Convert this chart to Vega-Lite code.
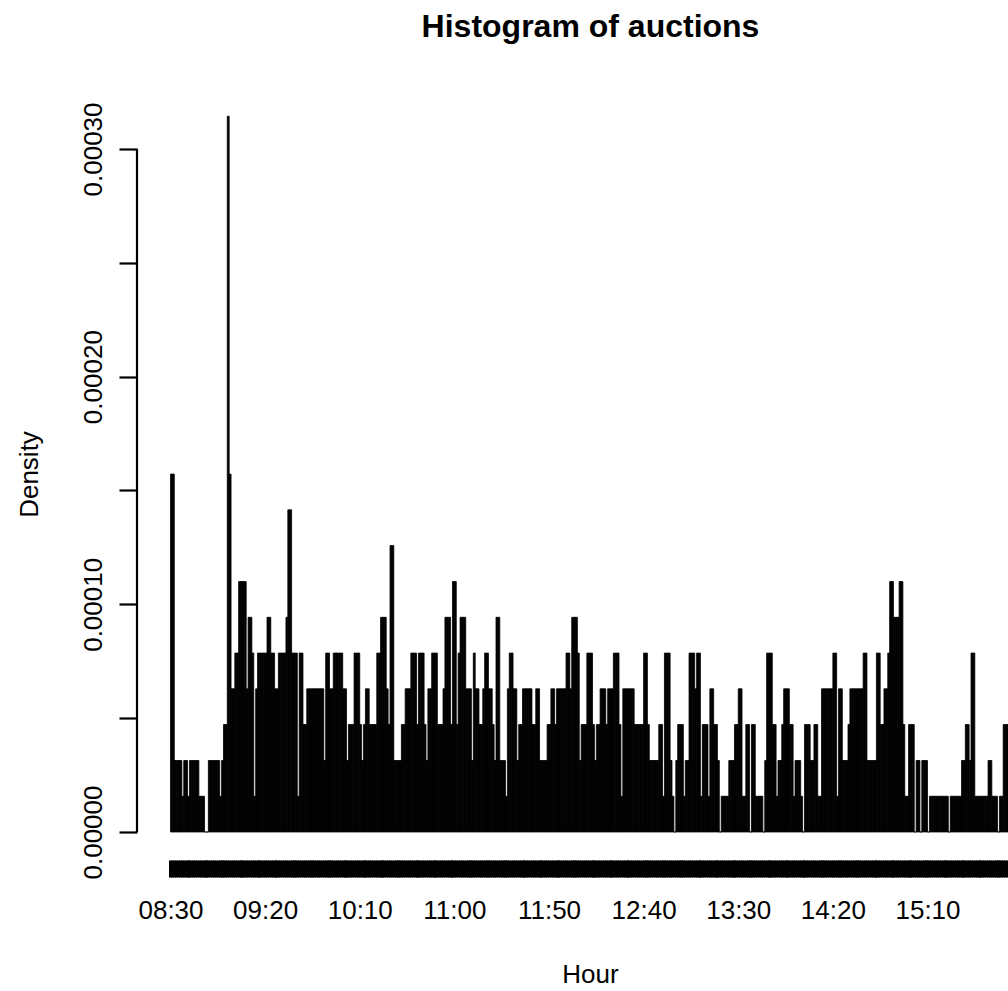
{
"$schema": "https://vega.github.io/schema/vega-lite/v6.json",
"width": 871,
"height": 772,
"autosize": "none",
"padding": {"left": 137, "top": 88, "right": 0, "bottom": 131},
"background": "white",
"config": {"view": {"stroke": null}, "font": "Liberation Sans"},
"title": {"text": "Histogram of auctions", "fontSize": 32, "fontWeight": "bold", "font": "Liberation Sans", "color": "black", "anchor": "middle", "dx": 18, "baseline": "alphabetic", "offset": 19},
"layer": [
{
"data": {"values": [
{"start":510,"end":511,"density":0.0001572},{"start":511,"end":512,"density":0.0001572},{"start":512,"end":513,"density":0.0000314},{"start":513,"end":514,"density":0.0000314},{"start":514,"end":515,"density":0.0000314},{"start":515,"end":516,"density":0.0000314},{"start":516,"end":517,"density":0.0000157},{"start":517,"end":518,"density":0.0000314},{"start":518,"end":519,"density":0.0000314},{"start":519,"end":520,"density":0.0000157},
{"start":520,"end":521,"density":0.0000314},{"start":521,"end":522,"density":0.0000314},{"start":522,"end":523,"density":0.0000314},{"start":523,"end":524,"density":0.0000314},{"start":524,"end":525,"density":0.0000314},{"start":525,"end":526,"density":0.0000157},{"start":526,"end":527,"density":0.0000157},{"start":527,"end":528,"density":0.0000157},{"start":528,"end":529,"density":0},{"start":529,"end":530,"density":0},
{"start":530,"end":531,"density":0.0000314},{"start":531,"end":532,"density":0.0000314},{"start":532,"end":533,"density":0.0000314},{"start":533,"end":534,"density":0.0000314},{"start":534,"end":535,"density":0.0000314},{"start":535,"end":536,"density":0.0000314},{"start":536,"end":537,"density":0.0000157},{"start":537,"end":538,"density":0.0000314},{"start":538,"end":539,"density":0.0000472},{"start":539,"end":540,"density":0.0000472},
{"start":540,"end":541,"density":0.0003144},{"start":541,"end":542,"density":0.0001572},{"start":542,"end":543,"density":0.0000629},{"start":543,"end":544,"density":0.0000629},{"start":544,"end":545,"density":0.0000786},{"start":545,"end":546,"density":0.0000786},{"start":546,"end":547,"density":0.00011},{"start":547,"end":548,"density":0.00011},{"start":548,"end":549,"density":0.00011},{"start":549,"end":550,"density":0.00011},
{"start":550,"end":551,"density":0.0000629},{"start":551,"end":552,"density":0.0000943},{"start":552,"end":553,"density":0.0000943},{"start":553,"end":554,"density":0.0000786},{"start":554,"end":555,"density":0.0000157},{"start":555,"end":556,"density":0.0000629},{"start":556,"end":557,"density":0.0000786},{"start":557,"end":558,"density":0.0000786},{"start":558,"end":559,"density":0.0000786},{"start":559,"end":560,"density":0.0000786},
{"start":560,"end":561,"density":0.0000786},{"start":561,"end":562,"density":0.0000943},{"start":562,"end":563,"density":0.0000943},{"start":563,"end":564,"density":0.0000786},{"start":564,"end":565,"density":0.0000786},{"start":565,"end":566,"density":0.0000629},{"start":566,"end":567,"density":0.0000629},{"start":567,"end":568,"density":0.0000786},{"start":568,"end":569,"density":0.0000786},{"start":569,"end":570,"density":0.0000786},
{"start":570,"end":571,"density":0.0000786},{"start":571,"end":572,"density":0.0000943},{"start":572,"end":573,"density":0.0001415},{"start":573,"end":574,"density":0.0001415},{"start":574,"end":575,"density":0.0000786},{"start":575,"end":576,"density":0.0000786},{"start":576,"end":577,"density":0.0000786},{"start":577,"end":578,"density":0.0000157},{"start":578,"end":579,"density":0.0000786},{"start":579,"end":580,"density":0.0000786},
{"start":580,"end":581,"density":0.0000472},{"start":581,"end":582,"density":0.0000472},{"start":582,"end":583,"density":0.0000629},{"start":583,"end":584,"density":0.0000629},{"start":584,"end":585,"density":0.0000629},{"start":585,"end":586,"density":0.0000629},{"start":586,"end":587,"density":0.0000629},{"start":587,"end":588,"density":0.0000629},{"start":588,"end":589,"density":0.0000629},{"start":589,"end":590,"density":0.0000629},
{"start":590,"end":591,"density":0.0000629},{"start":591,"end":592,"density":0.0000314},{"start":592,"end":593,"density":0.0000786},{"start":593,"end":594,"density":0.0000786},{"start":594,"end":595,"density":0.0000629},{"start":595,"end":596,"density":0.0000629},{"start":596,"end":597,"density":0.0000786},{"start":597,"end":598,"density":0.0000786},{"start":598,"end":599,"density":0.0000786},{"start":599,"end":600,"density":0.0000786},
{"start":600,"end":601,"density":0.0000786},{"start":601,"end":602,"density":0.0000629},{"start":602,"end":603,"density":0.0000629},{"start":603,"end":604,"density":0.0000314},{"start":604,"end":605,"density":0.0000472},{"start":605,"end":606,"density":0.0000472},{"start":606,"end":607,"density":0.0000472},{"start":607,"end":608,"density":0.0000786},{"start":608,"end":609,"density":0.0000786},{"start":609,"end":610,"density":0.0000786},
{"start":610,"end":611,"density":0.0000472},{"start":611,"end":612,"density":0.0000314},{"start":612,"end":613,"density":0.0000472},{"start":613,"end":614,"density":0.0000629},{"start":614,"end":615,"density":0.0000629},{"start":615,"end":616,"density":0.0000472},{"start":616,"end":617,"density":0.0000472},{"start":617,"end":618,"density":0.0000472},{"start":618,"end":619,"density":0.0000472},{"start":619,"end":620,"density":0.0000786},
{"start":620,"end":621,"density":0.0000786},{"start":621,"end":622,"density":0.0000943},{"start":622,"end":623,"density":0.0000943},{"start":623,"end":624,"density":0.0000943},{"start":624,"end":625,"density":0.0000629},{"start":625,"end":626,"density":0.0000472},{"start":626,"end":627,"density":0.0001258},{"start":627,"end":628,"density":0.0001258},{"start":628,"end":629,"density":0.0000314},{"start":629,"end":630,"density":0.0000314},
{"start":630,"end":631,"density":0.0000314},{"start":631,"end":632,"density":0.0000314},{"start":632,"end":633,"density":0.0000472},{"start":633,"end":634,"density":0.0000472},{"start":634,"end":635,"density":0.0000629},{"start":635,"end":636,"density":0.0000629},{"start":636,"end":637,"density":0.0000629},{"start":637,"end":638,"density":0.0000786},{"start":638,"end":639,"density":0.0000786},{"start":639,"end":640,"density":0.0000786},
{"start":640,"end":641,"density":0.0000472},{"start":641,"end":642,"density":0.0000786},{"start":642,"end":643,"density":0.0000786},{"start":643,"end":644,"density":0.0000786},{"start":644,"end":645,"density":0.0000472},{"start":645,"end":646,"density":0.0000314},{"start":646,"end":647,"density":0.0000629},{"start":647,"end":648,"density":0.0000629},{"start":648,"end":649,"density":0.0000786},{"start":649,"end":650,"density":0.0000786},
{"start":650,"end":651,"density":0.0000786},{"start":651,"end":652,"density":0.0000472},{"start":652,"end":653,"density":0.0000472},{"start":653,"end":654,"density":0.0000472},{"start":654,"end":655,"density":0.0000629},{"start":655,"end":656,"density":0.0000943},{"start":656,"end":657,"density":0.0000943},{"start":657,"end":658,"density":0.0000943},{"start":658,"end":659,"density":0.0000472},{"start":659,"end":660,"density":0.00011},
{"start":660,"end":661,"density":0.00011},{"start":661,"end":662,"density":0.0000472},{"start":662,"end":663,"density":0.0000786},{"start":663,"end":664,"density":0.0000943},{"start":664,"end":665,"density":0.0000943},{"start":665,"end":666,"density":0.0000943},{"start":666,"end":667,"density":0.0000629},{"start":667,"end":668,"density":0.0000629},{"start":668,"end":669,"density":0.0000629},{"start":669,"end":670,"density":0.0000314},
{"start":670,"end":671,"density":0.0000786},{"start":671,"end":672,"density":0.0000629},{"start":672,"end":673,"density":0.0000629},{"start":673,"end":674,"density":0.0000472},{"start":674,"end":675,"density":0.0000472},{"start":675,"end":676,"density":0.0000629},{"start":676,"end":677,"density":0.0000786},{"start":677,"end":678,"density":0.0000786},{"start":678,"end":679,"density":0.0000629},{"start":679,"end":680,"density":0.0000629},
{"start":680,"end":681,"density":0.0000472},{"start":681,"end":682,"density":0.0000314},{"start":682,"end":683,"density":0.0000943},{"start":683,"end":684,"density":0.0000943},{"start":684,"end":685,"density":0.0000314},{"start":685,"end":686,"density":0.0000314},{"start":686,"end":687,"density":0.0000314},{"start":687,"end":688,"density":0.0000157},{"start":688,"end":689,"density":0.0000629},{"start":689,"end":690,"density":0.0000786},
{"start":690,"end":691,"density":0.0000786},{"start":691,"end":692,"density":0.0000629},{"start":692,"end":693,"density":0.0000629},{"start":693,"end":694,"density":0.0000314},{"start":694,"end":695,"density":0.0000472},{"start":695,"end":696,"density":0.0000472},{"start":696,"end":697,"density":0.0000629},{"start":697,"end":698,"density":0.0000629},{"start":698,"end":699,"density":0.0000629},{"start":699,"end":700,"density":0.0000629},
{"start":700,"end":701,"density":0.0000629},{"start":701,"end":702,"density":0.0000472},{"start":702,"end":703,"density":0.0000472},{"start":703,"end":704,"density":0.0000629},{"start":704,"end":705,"density":0.0000629},{"start":705,"end":706,"density":0.0000314},{"start":706,"end":707,"density":0.0000314},{"start":707,"end":708,"density":0.0000314},{"start":708,"end":709,"density":0.0000314},{"start":709,"end":710,"density":0.0000472},
{"start":710,"end":711,"density":0.0000472},{"start":711,"end":712,"density":0.0000629},{"start":712,"end":713,"density":0.0000629},{"start":713,"end":714,"density":0.0000472},{"start":714,"end":715,"density":0.0000629},{"start":715,"end":716,"density":0.0000629},{"start":716,"end":717,"density":0.0000629},{"start":717,"end":718,"density":0.0000629},{"start":718,"end":719,"density":0.0000629},{"start":719,"end":720,"density":0.0000786},
{"start":720,"end":721,"density":0.0000786},{"start":721,"end":722,"density":0.0000629},{"start":722,"end":723,"density":0.0000943},{"start":723,"end":724,"density":0.0000943},{"start":724,"end":725,"density":0.0000943},{"start":725,"end":726,"density":0.0000786},{"start":726,"end":727,"density":0.0000314},{"start":727,"end":728,"density":0.0000472},{"start":728,"end":729,"density":0.0000472},{"start":729,"end":730,"density":0.0000472},
{"start":730,"end":731,"density":0.0000786},{"start":731,"end":732,"density":0.0000786},{"start":732,"end":733,"density":0.0000786},{"start":733,"end":734,"density":0.0000472},{"start":734,"end":735,"density":0.0000314},{"start":735,"end":736,"density":0.0000472},{"start":736,"end":737,"density":0.0000472},{"start":737,"end":738,"density":0.0000629},{"start":738,"end":739,"density":0.0000629},{"start":739,"end":740,"density":0.0000629},
{"start":740,"end":741,"density":0.0000472},{"start":741,"end":742,"density":0.0000629},{"start":742,"end":743,"density":0.0000629},{"start":743,"end":744,"density":0.0000629},{"start":744,"end":745,"density":0.0000786},{"start":745,"end":746,"density":0.0000786},{"start":746,"end":747,"density":0.0000786},{"start":747,"end":748,"density":0.0000472},{"start":748,"end":749,"density":0.0000157},{"start":749,"end":750,"density":0.0000629},
{"start":750,"end":751,"density":0.0000629},{"start":751,"end":752,"density":0.0000629},{"start":752,"end":753,"density":0.0000629},{"start":753,"end":754,"density":0.0000629},{"start":754,"end":755,"density":0.0000629},{"start":755,"end":756,"density":0.0000472},{"start":756,"end":757,"density":0.0000472},{"start":757,"end":758,"density":0.0000472},{"start":758,"end":759,"density":0.0000472},{"start":759,"end":760,"density":0.0000472},
{"start":760,"end":761,"density":0.0000786},{"start":761,"end":762,"density":0.0000786},{"start":762,"end":763,"density":0.0000472},{"start":763,"end":764,"density":0.0000314},{"start":764,"end":765,"density":0.0000314},{"start":765,"end":766,"density":0.0000314},{"start":766,"end":767,"density":0.0000314},{"start":767,"end":768,"density":0.0000314},{"start":768,"end":769,"density":0.0000472},{"start":769,"end":770,"density":0.0000472},
{"start":770,"end":771,"density":0.0000157},{"start":771,"end":772,"density":0.0000786},{"start":772,"end":773,"density":0.0000786},{"start":773,"end":774,"density":0.0000786},{"start":774,"end":775,"density":0.0000314},{"start":775,"end":776,"density":0.0000157},{"start":776,"end":777,"density":0},{"start":777,"end":778,"density":0.0000314},{"start":778,"end":779,"density":0.0000472},{"start":779,"end":780,"density":0.0000472},
{"start":780,"end":781,"density":0.0000472},{"start":781,"end":782,"density":0.0000157},{"start":782,"end":783,"density":0.0000314},{"start":783,"end":784,"density":0.0000314},{"start":784,"end":785,"density":0.0000786},{"start":785,"end":786,"density":0.0000786},{"start":786,"end":787,"density":0.0000786},{"start":787,"end":788,"density":0.0000629},{"start":788,"end":789,"density":0.0000786},{"start":789,"end":790,"density":0.0000786},
{"start":790,"end":791,"density":0.0000157},{"start":791,"end":792,"density":0.0000472},{"start":792,"end":793,"density":0.0000472},{"start":793,"end":794,"density":0.0000472},{"start":794,"end":795,"density":0.0000157},{"start":795,"end":796,"density":0.0000629},{"start":796,"end":797,"density":0.0000629},{"start":797,"end":798,"density":0.0000472},{"start":798,"end":799,"density":0.0000472},{"start":799,"end":800,"density":0.0000314},
{"start":800,"end":801,"density":0},{"start":801,"end":802,"density":0.0000157},{"start":802,"end":803,"density":0.0000157},{"start":803,"end":804,"density":0.0000157},{"start":804,"end":805,"density":0.0000157},{"start":805,"end":806,"density":0.0000314},{"start":806,"end":807,"density":0.0000314},{"start":807,"end":808,"density":0.0000314},{"start":808,"end":809,"density":0.0000472},{"start":809,"end":810,"density":0.0000472},
{"start":810,"end":811,"density":0.0000629},{"start":811,"end":812,"density":0.0000629},{"start":812,"end":813,"density":0.0000157},{"start":813,"end":814,"density":0.0000157},{"start":814,"end":815,"density":0.0000472},{"start":815,"end":816,"density":0.0000472},{"start":816,"end":817,"density":0},{"start":817,"end":818,"density":0.0000472},{"start":818,"end":819,"density":0.0000472},{"start":819,"end":820,"density":0.0000157},
{"start":820,"end":821,"density":0.0000157},{"start":821,"end":822,"density":0.0000157},{"start":822,"end":823,"density":0.0000157},{"start":823,"end":824,"density":0},{"start":824,"end":825,"density":0.0000314},{"start":825,"end":826,"density":0.0000786},{"start":826,"end":827,"density":0.0000786},{"start":827,"end":828,"density":0.0000786},{"start":828,"end":829,"density":0.0000472},{"start":829,"end":830,"density":0.0000472},
{"start":830,"end":831,"density":0.0000157},{"start":831,"end":832,"density":0.0000314},{"start":832,"end":833,"density":0.0000314},{"start":833,"end":834,"density":0.0000472},{"start":834,"end":835,"density":0.0000629},{"start":835,"end":836,"density":0.0000629},{"start":836,"end":837,"density":0.0000629},{"start":837,"end":838,"density":0.0000472},{"start":838,"end":839,"density":0.0000472},{"start":839,"end":840,"density":0.0000157},
{"start":840,"end":841,"density":0.0000314},{"start":841,"end":842,"density":0.0000314},{"start":842,"end":843,"density":0.0000314},{"start":843,"end":844,"density":0.0000157},{"start":844,"end":845,"density":0},{"start":845,"end":846,"density":0.0000472},{"start":846,"end":847,"density":0.0000472},{"start":847,"end":848,"density":0.0000472},{"start":848,"end":849,"density":0.0000314},{"start":849,"end":850,"density":0.0000314},
{"start":850,"end":851,"density":0.0000472},{"start":851,"end":852,"density":0.0000472},{"start":852,"end":853,"density":0.0000157},{"start":853,"end":854,"density":0.0000157},{"start":854,"end":855,"density":0.0000629},{"start":855,"end":856,"density":0.0000629},{"start":856,"end":857,"density":0.0000629},{"start":857,"end":858,"density":0.0000629},{"start":858,"end":859,"density":0.0000629},{"start":859,"end":860,"density":0.0000629},
{"start":860,"end":861,"density":0.0000786},{"start":861,"end":862,"density":0.0000786},{"start":862,"end":863,"density":0.0000157},{"start":863,"end":864,"density":0.0000629},{"start":864,"end":865,"density":0.0000629},{"start":865,"end":866,"density":0.0000314},{"start":866,"end":867,"density":0.0000314},{"start":867,"end":868,"density":0.0000314},{"start":868,"end":869,"density":0.0000472},{"start":869,"end":870,"density":0.0000629},
{"start":870,"end":871,"density":0.0000629},{"start":871,"end":872,"density":0.0000629},{"start":872,"end":873,"density":0.0000629},{"start":873,"end":874,"density":0.0000629},{"start":874,"end":875,"density":0.0000629},{"start":875,"end":876,"density":0.0000629},{"start":876,"end":877,"density":0.0000786},{"start":877,"end":878,"density":0.0000786},{"start":878,"end":879,"density":0.0000314},{"start":879,"end":880,"density":0.0000314},
{"start":880,"end":881,"density":0.0000314},{"start":881,"end":882,"density":0.0000314},{"start":882,"end":883,"density":0.0000314},{"start":883,"end":884,"density":0.0000786},{"start":884,"end":885,"density":0.0000786},{"start":885,"end":886,"density":0.0000472},{"start":886,"end":887,"density":0.0000472},{"start":887,"end":888,"density":0.0000629},{"start":888,"end":889,"density":0.0000629},{"start":889,"end":890,"density":0.0000786},
{"start":890,"end":891,"density":0.00011},{"start":891,"end":892,"density":0.00011},{"start":892,"end":893,"density":0.0000943},{"start":893,"end":894,"density":0.0000943},{"start":894,"end":895,"density":0.0000943},{"start":895,"end":896,"density":0.00011},{"start":896,"end":897,"density":0.00011},{"start":897,"end":898,"density":0.0000472},{"start":898,"end":899,"density":0.0000157},{"start":899,"end":900,"density":0.0000157},
{"start":900,"end":901,"density":0.0000472},{"start":901,"end":902,"density":0.0000472},{"start":902,"end":903,"density":0.0000472},{"start":903,"end":904,"density":0},{"start":904,"end":905,"density":0.0000314},{"start":905,"end":906,"density":0.0000314},{"start":906,"end":907,"density":0},{"start":907,"end":908,"density":0.0000314},{"start":908,"end":909,"density":0.0000314},{"start":909,"end":910,"density":0.0000314},
{"start":910,"end":911,"density":0},{"start":911,"end":912,"density":0.0000157},{"start":912,"end":913,"density":0.0000157},{"start":913,"end":914,"density":0.0000157},{"start":914,"end":915,"density":0.0000157},{"start":915,"end":916,"density":0.0000157},{"start":916,"end":917,"density":0.0000157},{"start":917,"end":918,"density":0.0000157},{"start":918,"end":919,"density":0.0000157},{"start":919,"end":920,"density":0.0000157},
{"start":920,"end":921,"density":0.0000157},{"start":921,"end":922,"density":0},{"start":922,"end":923,"density":0.0000157},{"start":923,"end":924,"density":0.0000157},{"start":924,"end":925,"density":0.0000157},{"start":925,"end":926,"density":0.0000157},{"start":926,"end":927,"density":0.0000157},{"start":927,"end":928,"density":0.0000157},{"start":928,"end":929,"density":0.0000314},{"start":929,"end":930,"density":0.0000314},
{"start":930,"end":931,"density":0.0000472},{"start":931,"end":932,"density":0.0000472},{"start":932,"end":933,"density":0.0000314},{"start":933,"end":934,"density":0.0000786},{"start":934,"end":935,"density":0.0000786},{"start":935,"end":936,"density":0.0000157},{"start":936,"end":937,"density":0.0000157},{"start":937,"end":938,"density":0.0000157},{"start":938,"end":939,"density":0.0000157},{"start":939,"end":940,"density":0.0000157},
{"start":940,"end":941,"density":0.0000157},{"start":941,"end":942,"density":0.0000157},{"start":942,"end":943,"density":0.0000314},{"start":943,"end":944,"density":0.0000314},{"start":944,"end":945,"density":0.0000157},{"start":945,"end":946,"density":0.0000157},{"start":946,"end":947,"density":0.0000157},{"start":947,"end":948,"density":0},{"start":948,"end":949,"density":0.0000157},{"start":949,"end":950,"density":0.0000157},
{"start":950,"end":951,"density":0.0000472},{"start":951,"end":952,"density":0.0000472},{"start":952,"end":953,"density":0.0000472}
]},
"mark": {"type": "bar", "fill": "black", "stroke": "black", "strokeWidth": 0.8, "clip": true},
"encoding": {
"x": {"field": "start", "type": "quantitative",
 "scale": {"domain": [492.3, 952.54], "nice": false, "zero": false},
 "axis": {
  "values": [510,511,512,513,514,515,516,517,518,519,520,521,522,523,524,525,526,527,528,529,530,531,532,533,534,535,536,537,538,539,540,541,542,543,544,545,546,547,548,549,550,551,552,553,554,555,556,557,558,559,560,561,562,563,564,565,566,567,568,569,570,571,572,573,574,575,576,577,578,579,580,581,582,583,584,585,586,587,588,589,590,591,592,593,594,595,596,597,598,599,600,601,602,603,604,605,606,607,608,609,610,611,612,613,614,615,616,617,618,619,620,621,622,623,624,625,626,627,628,629,630,631,632,633,634,635,636,637,638,639,640,641,642,643,644,645,646,647,648,649,650,651,652,653,654,655,656,657,658,659,660,661,662,663,664,665,666,667,668,669,670,671,672,673,674,675,676,677,678,679,680,681,682,683,684,685,686,687,688,689,690,691,692,693,694,695,696,697,698,699,700,701,702,703,704,705,706,707,708,709,710,711,712,713,714,715,716,717,718,719,720,721,722,723,724,725,726,727,728,729,730,731,732,733,734,735,736,737,738,739,740,741,742,743,744,745,746,747,748,749,750,751,752,753,754,755,756,757,758,759,760,761,762,763,764,765,766,767,768,769,770,771,772,773,774,775,776,777,778,779,780,781,782,783,784,785,786,787,788,789,790,791,792,793,794,795,796,797,798,799,800,801,802,803,804,805,806,807,808,809,810,811,812,813,814,815,816,817,818,819,820,821,822,823,824,825,826,827,828,829,830,831,832,833,834,835,836,837,838,839,840,841,842,843,844,845,846,847,848,849,850,851,852,853,854,855,856,857,858,859,860,861,862,863,864,865,866,867,868,869,870,871,872,873,874,875,876,877,878,879,880,881,882,883,884,885,886,887,888,889,890,891,892,893,894,895,896,897,898,899,900,901,902,903,904,905,906,907,908,909,910,911,912,913,914,915,916,917,918,919,920,921,922,923,924,925,926,927,928,929,930,931,932,933,934,935,936,937,938,939,940,941,942,943,944,945,946,947,948,949,950,951,952],
  "tickCount": 2000,
  "labelExpr": "(datum.value - 510) % 50 == 0 ? (floor(datum.value / 60) < 10 ? '0' : '') + floor(datum.value / 60) + ':' + (datum.value % 60 < 10 ? '0' : '') + (datum.value % 60) : ''",
  "domain": false, "grid": false,
  "tickSize": 17, "tickWidth": 3, "tickColor": "black",
  "labelOverlap": false, "labelFlush": false, "labelBound": false,
  "labelFontSize": 26, "labelColor": "black", "labelPadding": 41, "labelBaseline": "alphabetic",
  "title": "Hour", "titleFontSize": 26, "titleFontWeight": "normal", "titleColor": "black",
  "titleX": 453, "titleY": 122, "titleBaseline": "alphabetic", "titleAlign": "center", "titleAnchor": null
 }},
"x2": {"field": "end"},
"y": {"field": "density", "type": "quantitative",
 "scale": {"domain": [-0.0000123, 0.00032679], "nice": false, "zero": false},
 "axis": {
  "values": [0, 0.00005, 0.0001, 0.00015, 0.0002, 0.00025, 0.0003],
  "tickCount": 100,
  "labelExpr": "slice(format(datum.value, '.5f'), -1) == '0' ? format(datum.value, '.5f') : ''",
  "domain": false, "grid": false,
  "tickSize": 18, "tickWidth": 2.2, "tickColor": "black",
  "labelAngle": 270, "labelAlign": "center", "labelBaseline": "alphabetic", "labelPadding": 18,
  "labelOverlap": false, "labelFlush": false, "labelBound": false,
  "labelFontSize": 26, "labelColor": "black",
  "title": "Density", "titleFontSize": 26, "titleFontWeight": "normal", "titleColor": "black",
  "titleAngle": 270, "titleX": -100, "titleY": 386, "titleBaseline": "alphabetic", "titleAlign": "center"
 }},
"y2": {"datum": 0}
}
},
{
"data": {"values": [{"low": 0, "high": 0.0003}]},
"mark": {"type": "rule", "color": "black", "strokeWidth": 2.2},
"encoding": {
 "x": {"datum": 492.3, "type": "quantitative"},
 "y": {"field": "low", "type": "quantitative"},
 "y2": {"field": "high"}
}
}
]
}
